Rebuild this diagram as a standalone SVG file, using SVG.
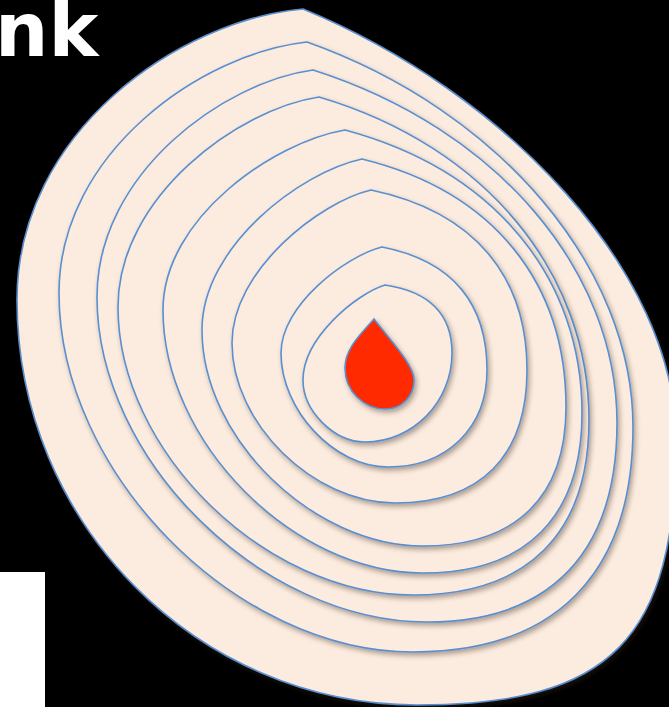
<svg xmlns="http://www.w3.org/2000/svg" width="669" height="707" viewBox="0 0 669 707">
  <defs>
    <filter id="sh" x="-10%" y="-10%" width="130%" height="130%">
      <feDropShadow dx="2" dy="3" stdDeviation="2.5" flood-color="#3a2a1a" flood-opacity="0.4"/>
    </filter>
    <style>
      .ring { fill: #FCECE0; stroke: #5A8FCF; stroke-width: 1.6; filter: url(#sh); }
      .drop { fill: #FF2A00; stroke: #5A8FCF; stroke-width: 1.6; filter: url(#sh); }
      .title { fill: #FFFFFF; font-family: "DejaVu Sans", sans-serif; font-weight: bold; font-size: 75px; }
    </style>
  </defs>
  <rect x="0" y="0" width="669" height="707" fill="#000000"/>
  <text class="title" x="-5" y="56">nk</text>
  <rect x="0" y="572" width="45" height="135" fill="#FFFFFF"/>
  <g id="ring1"><path class="ring" d="M303,9 C180,20 17,131 17,300 C17,523 197,705 417,705 C611,705 676,639 676,440 C676,272 505,92 303,9 Z"/></g>
  <g id="ring2"><path class="ring" d="M307,42 C203,53 59,152 59,293 C59,473 236,652 413,652 C556,652 633,573 633,427 C633,269 501,111 307,42 Z"/></g>
  <g id="ring3"><path class="ring" d="M313,70 C224,82 97,173 97,297 C97,460 262,622 427,622 C551,622 617,552 617,423 C617,271 498,129 313,70 Z"/></g>
  <g id="ring4"><path class="ring" d="M319,97 C239,109 118,196 118,307 C118,451 265,595 413,595 C527,595 589,534 589,420 C589,275 488,147 319,97 Z"/></g>
  <g id="ring5"><path class="ring" d="M345,130 C274,142 163,218 163,310 C163,442 293,573 423,573 C526,573 582,517 582,413 C582,280 497,171 345,130 Z"/></g>
  <g id="ring6"><path class="ring" d="M362,159 C301,172 202,246 202,330 C202,438 313,546 423,546 C516,546 566,497 566,407 C566,285 496,192 362,159 Z"/></g>
  <g id="ring7"><path class="ring" d="M371,190 C320,202 232,270 232,343 C232,423 313,503 395,503 C481,503 527,456 527,370 C527,278 476,212 371,190 Z"/></g>
  <g id="ring8"><path class="ring" d="M382,247 C346,256 281,305 281,353 C281,410 334,467 388,467 C447,467 487,428 487,370 C487,305 454,261 382,247 Z"/></g>
  <g id="ring9"><path class="ring" d="M385,285 C356,294 303,338 303,380 C303,411 334,442 365,442 C413,442 452,402 452,353 C452,316 432,292 385,285 Z"/></g>
  <g id="drop"><path class="drop" d="M374,319 C362,333 345,348 345,368 C345,392 365,409 385,409 C402,409 414,396 414,380 C414,365 390,340 374,319 Z"/></g>
</svg>
